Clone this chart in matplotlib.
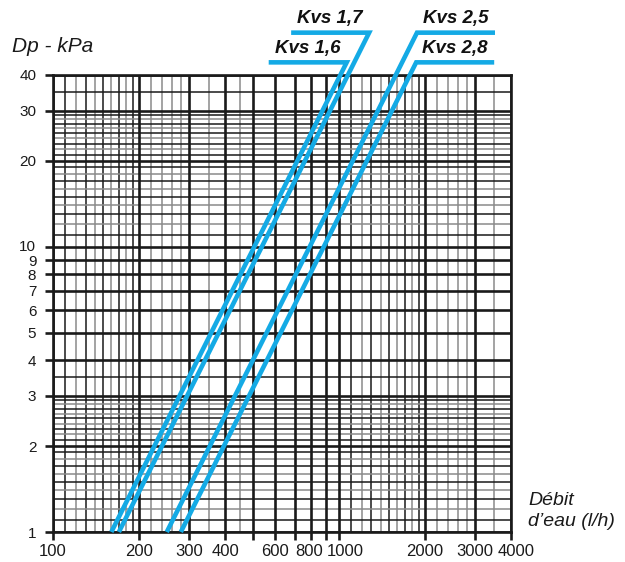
import numpy as np
import matplotlib
matplotlib.use("Agg")
import matplotlib.pyplot as plt
from matplotlib.ticker import NullLocator, FixedLocator, FixedFormatter
from matplotlib.transforms import ScaledTranslation

plt.rcParams['font.family'] = ['Liberation Sans', 'DejaVu Sans']

# ---- data ----
kvs_labels = ['Kvs 1,6', 'Kvs 1,7', 'Kvs 2,5', 'Kvs 2,8']
flow_at_1kpa = [160, 170, 250, 280]          # l/h at Dp = 1 kPa
flow_at_top = [1065, 1276, 1876, 1864]       # l/h where the line meets its label leader
dp_at_top = [44.3, 56.3, 56.3, 44.3]         # kPa at the leader corner
label_side = [-1, -1, 1, 1]                  # leader goes left (-1) or right (+1)

x_ticks = [100, 200, 300, 400, 500, 600, 700, 800, 900, 1000, 2000, 3000, 4000]
x_ticklabels = ['100', '200', '300', '400', '', '600', '', '800', '', '1000', '2000', '3000', '4000']
y_ticks = [1, 2, 3, 4, 5, 6, 7, 8, 9, 10, 20, 30, 40]
y_ticklabels = ['1', '2', '3', '4', '5', '6', '7', '8', '9', '10', '20', '30', '40']

W, H = 625, 562
fig = plt.figure(figsize=(W / 100, H / 100), dpi=100)
L, R, T, B = 53, 511, 75, 532
ax = fig.add_axes([L / W, 1 - B / H, (R - L) / W, (B - T) / H])
ax.set_xscale('log')
ax.set_yscale('log')
ax.set_xlim(100, 4000)
ax.set_ylim(1, 40)

# ---- grid (graph paper) ----
major_lw, minor_lw = 1.9, 1.1
black, gray = '#1a1a1a', '#8a8a8a'

def vminor(vals, alternate=True, start_black=True):
    for i, v in enumerate(vals):
        if alternate:
            c = black if (i % 2 == 0) == start_black else gray
        else:
            c = gray
        ax.axvline(v, color=c, lw=minor_lw, zorder=1)

def hminor(vals, alternate=True, start_black=True):
    for i, v in enumerate(vals):
        if alternate:
            c = black if (i % 2 == 0) == start_black else gray
        else:
            c = gray
        ax.axhline(v, color=c, lw=minor_lw, zorder=1)

vminor(np.arange(110, 200, 10))
vminor(np.arange(220, 300, 20), alternate=False)
vminor([350, 450], alternate=False)
vminor(np.arange(1100, 2000, 100))
vminor(np.arange(2200, 3000, 200), alternate=False)
vminor([3500], alternate=False)

hminor(np.arange(1.1, 2.0, 0.1))
hminor(np.arange(2.1, 3.0, 0.1))
hminor([3.5], alternate=True)
hminor(np.arange(11, 20, 1))
hminor(np.arange(21, 30, 1))
hminor([35], alternate=True)

for v in x_ticks:
    ax.axvline(v, color=black, lw=major_lw, zorder=2)
for v in y_ticks:
    ax.axhline(v, color=black, lw=major_lw, zorder=2)

for s in ax.spines.values():
    s.set_linewidth(major_lw)
    s.set_color(black)
    s.set_zorder(3)

# ---- ticks ----
ax.xaxis.set_major_locator(FixedLocator(x_ticks))
ax.xaxis.set_major_formatter(FixedFormatter(x_ticklabels))
ax.yaxis.set_major_locator(FixedLocator(y_ticks))
ax.yaxis.set_major_formatter(FixedFormatter(y_ticklabels))
ax.xaxis.set_minor_locator(NullLocator())
ax.yaxis.set_minor_locator(NullLocator())
ax.tick_params(axis='both', which='major', direction='out', length=6, width=1.9,
               color=black, labelcolor='#1a1a1a')
ax.tick_params(axis='x', pad=3, labelsize=12)
ax.tick_params(axis='y', pad=6, labelsize=11)

fig.canvas.draw()
xshift = {'800': -2, '1000': 6, '4000': 5}
for lbl in ax.get_xticklabels():
    dx = xshift.get(lbl.get_text(), 0)
    if dx:
        lbl.set_transform(lbl.get_transform() + ScaledTranslation(dx / 100, 0, fig.dpi_scale_trans))
yshift = {'10': 1.5, '9': -0.5}
for lbl in ax.get_yticklabels():
    dy = yshift.get(lbl.get_text(), 0)
    if dy:
        lbl.set_transform(lbl.get_transform() + ScaledTranslation(0, dy / 100, fig.dpi_scale_trans))

# ---- Kvs lines with leader underline ----
cyan = '#14AAE5'
ppd = (R - L) / np.log10(4000 / 100)   # pixels per decade on x
lead_px = 78
for lab, q1, q2, d2, side in zip(kvs_labels, flow_at_1kpa, flow_at_top, dp_at_top, label_side):
    q3 = q2 * 10 ** (side * lead_px / ppd)
    ax.plot([q1, q2, q3], [1, d2, d2], color=cyan, lw=3.3, clip_on=False, zorder=5,
            solid_capstyle='butt', solid_joinstyle='miter')
    qm = q2 * 10 ** (side * lead_px / 2 / ppd)
    ax.annotate(lab, xy=(qm, d2), xytext=(0, 10), textcoords='offset points',
                ha='center', va='center', fontsize=13.5, fontweight='bold',
                fontstyle='italic', color='#111111', annotation_clip=False)

# ---- axis titles ----
fig.text(12 / W, 1 - 46 / H, 'Dp - kPa', fontsize=15, fontstyle='italic',
         ha='left', va='center', color='#1a1a1a')
fig.text(528 / W, 1 - 511 / H, 'Débit\nd\u2019eau (l/h)', fontsize=14, fontstyle='italic',
         ha='left', va='center', color='#1a1a1a', linespacing=1.25)

fig.savefig('out.png', dpi=100)
